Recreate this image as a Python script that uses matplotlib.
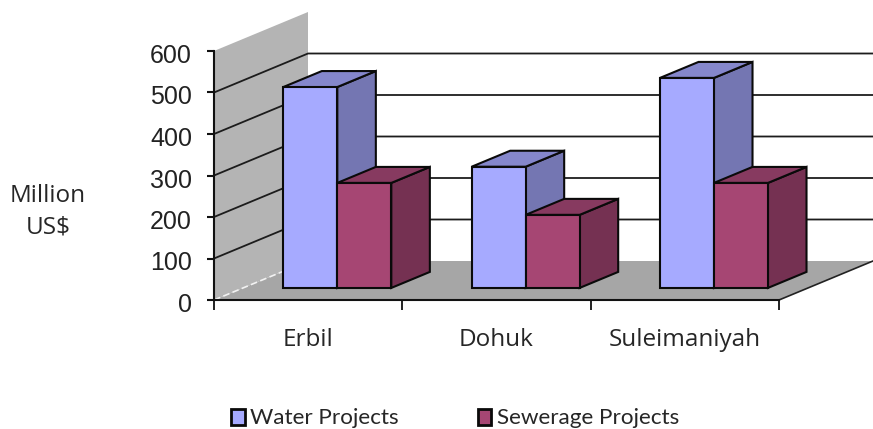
import matplotlib
matplotlib.use("Agg")
import matplotlib.pyplot as plt
from matplotlib.patches import Polygon, Patch
from matplotlib.transforms import ScaledTranslation

categories = ["Erbil", "Dohuk", "Suleimaniyah"]
water = [484, 292, 506]
sewerage = [253, 176, 253]
series_names = ["Water Projects", "Sewerage Projects"]
y_ticks = [0, 100, 200, 300, 400, 500, 600]

W, H = 873, 429
fig = plt.figure(figsize=(W / 100, H / 100), dpi=100, facecolor="white")
L, R, B, T = 214, 779, 300, 51
ax = fig.add_axes([L / W, 1 - B / H, (R - L) / W, (B - T) / H])
ax.set_xlim(0, 3)
ax.set_ylim(0, 600)
ax.patch.set_visible(False)

# oblique projection: depth 0 (front) to 1 (back)
DX = 94 / ((R - L) / 3)
DY = 39 / ((B - T) / 600)


def pt(x, y, d=0.0):
    return (x + d * DX, y + d * DY)


def poly(points, fc, lw=1.5, ec="#0a0a0a", z=1):
    ax.add_patch(Polygon(points, closed=True, fc=fc, ec=ec, lw=lw, clip_on=False,
                         zorder=z, joinstyle="miter"))


# floor and wall
poly([pt(0, 0), pt(3, 0), pt(3, 0, 1), pt(0, 0, 1)], "#a6a6a6", lw=0, ec="none", z=1)
poly([pt(0, 0), pt(0, 600), pt(0, 600, 1), pt(0, 0, 1)], "#b4b4b4", lw=0, ec="none", z=1)
a, b = pt(0, 0), pt(0, 0, 1)
ax.plot([a[0], b[0]], [a[1], b[1]], color="#f2f2f2", lw=1.2, ls=(0, (4, 2)), clip_on=False, zorder=2)
a, b = pt(3, 0), pt(3, 0, 1)
ax.plot([a[0], b[0]], [a[1], b[1]], color="#222222", lw=1.2, clip_on=False, zorder=2)

# gridlines
for v in y_ticks[1:-1]:
    p = [pt(0, v), pt(0, v, 1), pt(3, v, 1)]
    ax.plot([q[0] for q in p], [q[1] for q in p], color="#1c1c1c", lw=1.3,
            clip_on=False, zorder=2, solid_joinstyle="miter")

# bars
BW = 54 / ((R - L) / 3)
D0, D1 = 0.31, 0.72
WATER = ("#a6aaff", "#8587cc", "#7476b2")
SEWER = ("#a64673", "#873a60", "#753152")


def bar(x0, x1, h, cols, z):
    poly([pt(x1, 0, D0), pt(x1, 0, D1), pt(x1, h, D1), pt(x1, h, D0)], cols[2], z=z)
    poly([pt(x0, h, D0), pt(x1, h, D0), pt(x1, h, D1), pt(x0, h, D1)], cols[1], z=z)
    poly([pt(x0, 0, D0), pt(x1, 0, D0), pt(x1, h, D0), pt(x0, h, D0)], cols[0], z=z)


for i, (w, s) in enumerate(zip(water, sewerage)):
    c = i + 0.5
    bar(c - BW, c, w, WATER, 3)
    bar(c, c + BW, s, SEWER, 4)

# axes
for side in ("top", "right"):
    ax.spines[side].set_visible(False)
for side in ("left", "bottom"):
    ax.spines[side].set_linewidth(1.5)
    ax.spines[side].set_color("#111111")
    ax.spines[side].set_zorder(6)
ax.set_yticks(y_ticks)
ax.set_yticklabels([str(v) for v in y_ticks], family="Liberation Sans", fontsize=18, color="#222222")
ax.tick_params(axis="y", length=5, width=1.5, pad=10.8, color="#111111")
shift = ScaledTranslation(0, -2.5 / 100, fig.dpi_scale_trans)
for lab in ax.get_yticklabels():
    lab.set_transform(lab.get_transform() + shift)
ax.set_xticks(range(4))
ax.set_xticklabels([])
ax.tick_params(axis="x", which="major", length=7, width=1.3, color="#111111")
ax.set_xticks([i + 0.5 for i in range(3)], minor=True)
ax.set_xticklabels(categories, minor=True, family="Open Sans", fontsize=17.5, color="#262626")
ax.tick_params(axis="x", which="minor", length=0, pad=20.5)

ax.set_ylabel("Million\nUS$", rotation=0, family="Open Sans", fontsize=17.5, color="#262626",
              ha="center", va="center", linespacing=1.4)
ax.yaxis.set_label_coords((48 - L) / (R - L), (B - 211.5) / (B - T))

handles = [Patch(fc=WATER[0], ec="#0a0a0a", lw=2), Patch(fc=SEWER[0], ec="#0a0a0a", lw=2)]
fig.legend(handles, series_names, ncol=2, frameon=False, loc="center left",
           bbox_to_anchor=(231 / W, 1 - 418.5 / H), prop={"family": "Lato", "size": 16.2},
           handlelength=0.6, handleheight=0.7, handletextpad=0.25, columnspacing=3.5,
           labelcolor="#262626", borderpad=0, borderaxespad=0)

fig.savefig("out.png", dpi=100, facecolor="white")
